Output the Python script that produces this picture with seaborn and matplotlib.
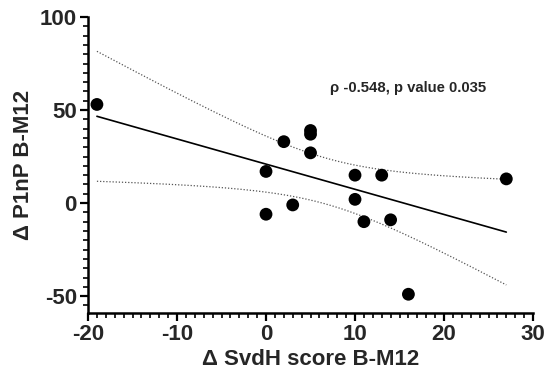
import numpy as np
import pandas as pd
import matplotlib
matplotlib.use("Agg")
import matplotlib.pyplot as plt
import seaborn as sns
from matplotlib.ticker import MultipleLocator

# Data
svdh = [-19, 0, 0, 2, 3, 5, 5, 5, 10, 10, 11, 13, 14, 16, 27]
p1np = [53, 17, -6, 33, -1, 39, 37, 27, 15, 2, -10, 15, -9, -49, 13]
x_label = "Δ SvdH score B-M12"
y_label = "Δ P1nP B-M12"
annotation = "ρ -0.548, p value 0.035"
x_ticks = [-20, -10, 0, 10, 20, 30]
y_ticks = [-50, 0, 50, 100]

df = pd.DataFrame({"x": svdh, "y": p1np})

sns.set_theme(style="ticks")
plt.rcParams["font.family"] = ["Liberation Sans", "DejaVu Sans"]
plt.rcParams["font.weight"] = "bold"
plt.rcParams["axes.unicode_minus"] = False

fig = plt.figure(figsize=(5.45, 3.82), dpi=100)
ax = fig.add_axes([0.1615, 0.181, 0.8165, 0.7745])

sns.regplot(data=df, x="x", y="y", ax=ax, ci=None, truncate=True,
            scatter_kws=dict(s=85, color="black", edgecolor="none", alpha=1, zorder=3),
            line_kws=dict(color="black", lw=1.2))

# analytic 95% confidence band of the regression line
x = np.asarray(svdh, float)
y = np.asarray(p1np, float)
n = len(x)
b, a = np.polyfit(x, y, 1)
resid = y - (a + b * x)
s = np.sqrt(np.sum(resid ** 2) / (n - 2))
xs = np.linspace(x.min(), x.max(), 200)
tval = 2.160  # t(0.975, 13)
se = s * np.sqrt(1 / n + (xs - x.mean()) ** 2 / np.sum((x - x.mean()) ** 2))
yfit = a + b * xs
ax.plot(xs, yfit + tval * se, ls=(0, (1, 1.5)), color="#555555", lw=0.9)
ax.plot(xs, yfit - tval * se, ls=(0, (1, 1.5)), color="#555555", lw=0.9)

ax.set_xlim(-20, 30)
ax.set_ylim(-59, 100)
ax.set_xticks(x_ticks)
ax.set_yticks(y_ticks)
ax.xaxis.set_minor_locator(MultipleLocator(1))
ax.yaxis.set_minor_locator(MultipleLocator(5))
ax.tick_params(which="major", length=6, width=1.6, labelsize=16, color="black", pad=2)
ax.tick_params(which="minor", length=3.5, width=1.2, color="black")
for lab in ax.get_xticklabels() + ax.get_yticklabels():
    lab.set_fontweight("bold")
for side in ["left", "bottom"]:
    ax.spines[side].set_linewidth(1.8)
    ax.spines[side].set_color("black")
sns.despine(ax=ax)

ax.set_xlabel(x_label, fontsize=16, fontweight="bold", labelpad=3)
ax.set_ylabel(y_label, fontsize=16, fontweight="bold", labelpad=4)
ax.text(7.2, 62, annotation, fontsize=10.7, fontweight="bold", va="center", ha="left")

fig.savefig("out.png", dpi=100)
